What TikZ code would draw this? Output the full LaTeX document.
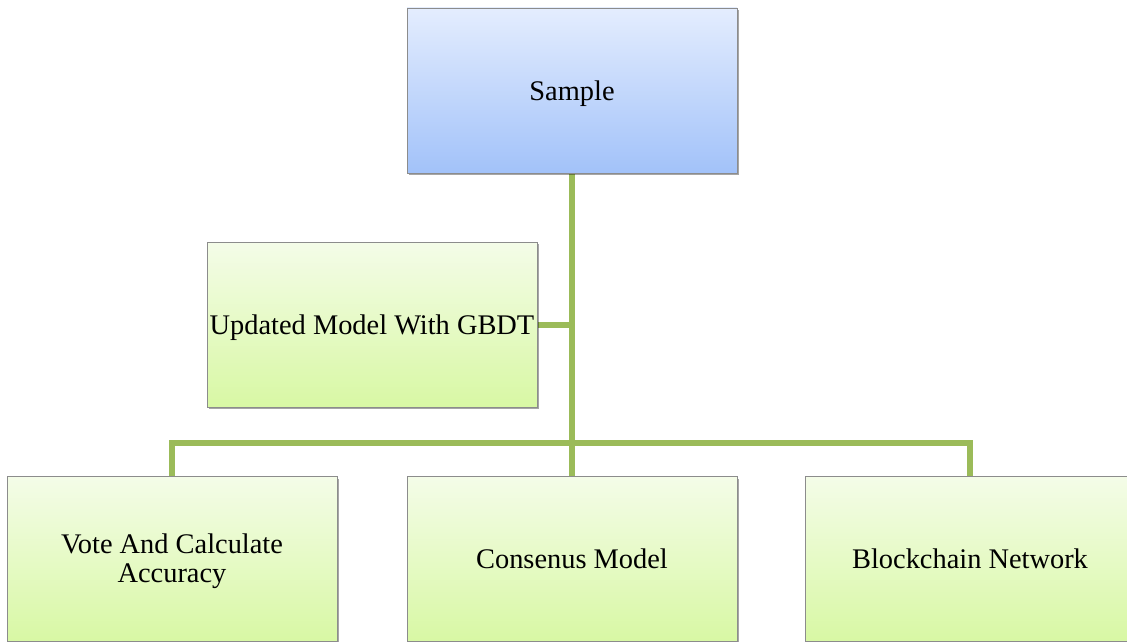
\documentclass[tikz,border=0pt]{standalone}
\usepackage{fontspec}
\setmainfont{Liberation Serif}
\usetikzlibrary{shadows,backgrounds}
\definecolor{conngreen}{HTML}{9BBB59}
\definecolor{boxborder}{HTML}{8C8C8C}
\definecolor{bluetop}{HTML}{E4EDFE}
\definecolor{bluebot}{HTML}{A2C2F9}
\definecolor{greentop}{HTML}{F4FCE8}
\definecolor{greenbot}{HTML}{D8F8A4}
\tikzset{
  stepbox/.style={draw=boxborder, line width=0.8pt, minimum width=330pt, minimum height=165pt,
    inner sep=0pt, outer sep=0pt, align=center, font=\fontsize{28.4}{29}\selectfont,
    text height=26pt, text depth=7pt,
    drop shadow={shadow xshift=2pt, shadow yshift=-2pt, opacity=0.35, fill=black}},
  bluebox/.style={stepbox, top color=bluetop, bottom color=bluebot},
  greenbox/.style={stepbox, top color=greentop, bottom color=greenbot},
  conn/.style={draw=conngreen, line width=6pt}
}
\begin{document}
\begin{tikzpicture}[x=1pt, y=-1pt]
\useasboundingbox (0,0) rectangle (1127,642);
\clip (0,0) rectangle (1127,642);
\node[bluebox] (S) at (572,90.5) {Sample};
\node[greenbox] (U) at (372,324.5) {Updated Model With GBDT};
\node[greenbox, text height=53pt] (V) at (172,559) {Vote And Calculate\\Accuracy};
\node[greenbox] (C) at (572,559) {Consenus Model};
\node[greenbox] (B) at (970,559) {Blockchain Network};
\coordinate (hub) at (572,443);
\begin{scope}[on background layer]
\draw[conn] (S.south) -- (hub);
\draw[conn] (V.north) |- (hub) -| (B.north);
\draw[conn] (hub) -- (C.north);
\draw[conn] (U.east) -- (U.east -| S.south);
\end{scope}
\end{tikzpicture}
\end{document}
